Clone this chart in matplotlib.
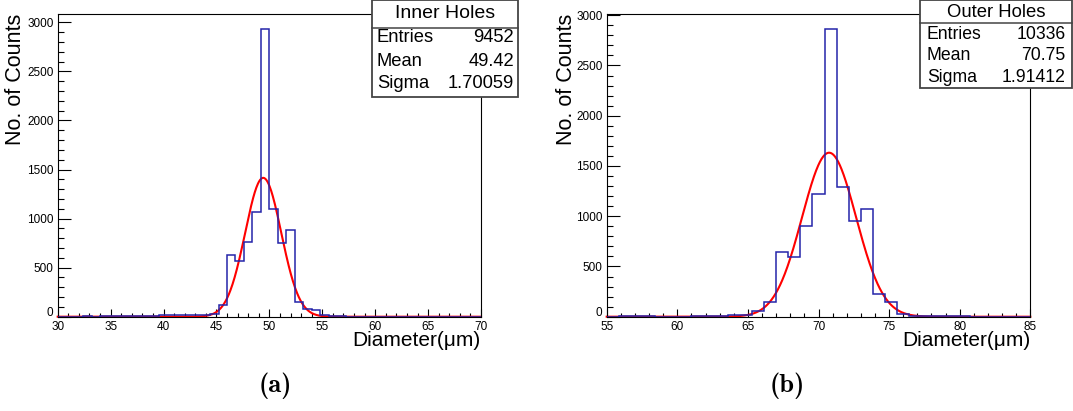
import os
import numpy as np
import matplotlib
matplotlib.use("Agg")
import matplotlib.pyplot as plt
from matplotlib.patches import Rectangle
from matplotlib.lines import Line2D
from matplotlib.ticker import MultipleLocator, FuncFormatter
from matplotlib.font_manager import FontProperties

plt.rcParams['font.family'] = ['Liberation Sans', 'DejaVu Sans']

# ---- data ----
inner_range = (30, 70)
inner_nbins = 50
inner_counts = [0, 2, 1, 3, 2, 3, 5, 6, 7, 8, 10, 12, 14, 16, 18, 20, 22, 20,
                30, 122, 626, 568, 765, 1068, 2935, 1095, 755, 884, 153, 82,
                68, 14, 12, 3, 2, 1, 1, 0, 0, 0, 0, 0, 0, 0, 0, 0, 0, 0, 0, 0]
inner_fit = (1415, 49.42, 1.70059)   # amplitude, mean, sigma
inner_stats = ["Inner Holes", "9452", "49.42", "1.70059"]

outer_range = (55, 85)
outer_nbins = 35
outer_counts = [0, 2, 4, 2, 1, 1, 1, 2, 3, 8, 12, 17, 53, 150, 646, 599, 902,
                1222, 2866, 1288, 952, 1072, 223, 146, 23, 10, 6, 4, 3, 2, 1,
                1, 0, 0, 0]
outer_fit = (1632, 70.75, 1.91412)
outer_stats = ["Outer Holes", "10336", "70.75", "1.91412"]

W, H = 1073, 411
fig = plt.figure(figsize=(W / 100, H / 100), dpi=100)

cmb = os.path.join(matplotlib.get_data_path(), 'fonts', 'ttf', 'cmb10.ttf')
if os.path.exists(cmb):
    capfont = FontProperties(fname=cmb, size=19)
else:
    capfont = FontProperties(family='DejaVu Serif', weight='bold', size=18)


def fx(px):
    return px / W


def fy(py):
    return 1 - py / H


def panel(left, right, top, bottom, xr, nbins, counts, fit, xmajor):
    ax = fig.add_axes([fx(left), fy(bottom), fx(right - left), (bottom - top) / H])
    edges = np.linspace(xr[0], xr[1], nbins + 1)
    ax.stairs(counts, edges, color='#2424aa', lw=1.1, zorder=3)
    amp, mu, sig = fit
    xx = np.linspace(xr[0], xr[1], 800)
    ax.plot(xx, amp * np.exp(-0.5 * ((xx - mu) / sig) ** 2), color='red',
            lw=1.5, zorder=2, clip_on=False)
    ax.set_xlim(*xr)
    ax.set_ylim(0, 1.05 * max(counts))
    ax.xaxis.set_major_locator(MultipleLocator(xmajor))
    ax.xaxis.set_minor_locator(MultipleLocator(1))
    ax.yaxis.set_major_locator(MultipleLocator(500))
    ax.yaxis.set_minor_locator(MultipleLocator(100))
    # the "0" is drawn separately, slightly lifted, like ROOT does
    ax.yaxis.set_major_formatter(FuncFormatter(lambda v, p: '' if v == 0 else '%g' % v))
    ax.annotate('0', xy=(0, 0), xycoords=('axes fraction', 'data'),
                xytext=(-3, 2.5), textcoords='offset points', ha='right',
                va='center', fontsize=8.5, annotation_clip=False)
    ax.tick_params(axis='both', which='both', direction='in', labelsize=8.5,
                   width=0.8, top=False, right=False)
    ax.tick_params(axis='x', which='major', length=5.8, pad=3)
    ax.tick_params(axis='x', which='minor', length=3)
    ax.tick_params(axis='y', which='major', length=9, pad=3)
    ax.tick_params(axis='y', which='minor', length=4.3)
    for s in ax.spines.values():
        s.set_linewidth(0.8)
        s.set_zorder(2.5)
    return ax


def statbox(x0, x1, y1, ysep, lines, title_size, row_size, lx, rx, ty, rows_y):
    fig.add_artist(Rectangle((fx(x0), fy(y1)), fx(x1 - x0), y1 / H,
                             transform=fig.transFigure, facecolor='white',
                             edgecolor='#444444', lw=1.3, zorder=10))
    fig.add_artist(Line2D([fx(x0), fx(x1)], [fy(ysep), fy(ysep)],
                          transform=fig.transFigure, color='#444444', lw=1.1,
                          zorder=11))
    fig.text(fx((x0 + x1) / 2), fy(ty), lines[0], ha='center', va='center',
             fontsize=title_size, zorder=12)
    names = ["Entries", "Mean", "Sigma"]
    for name, val, yy in zip(names, lines[1:], rows_y):
        fig.text(fx(lx), fy(yy), name, ha='left', va='center',
                 fontsize=row_size, zorder=12)
        fig.text(fx(rx), fy(yy), val, ha='right', va='center',
                 fontsize=row_size, zorder=12)


# panel (a)
axa = panel(57.7, 481, 14.3, 316.7, inner_range, inner_nbins, inner_counts,
            inner_fit, 5)
# panel (b)
axb = panel(606.7, 1030.3, 14.3, 316.7, outer_range, outer_nbins, outer_counts,
            outer_fit, 5)

for xl, xr_ in [(16, 481), (566, 1030.3)]:
    fig.text(fx(xl), fy(14), "No. of Counts", rotation=90, ha='center',
             va='top', fontsize=15.5)
    fig.text(fx(xr_), fy(331), "Diameter(\u03bcm)", ha='right', va='top',
             fontsize=15)

statbox(371.7, 518.3, 97.3, 27.7, inner_stats, 14, 13.2, 377, 514, 14,
        [38, 61, 84])
statbox(920, 1071.7, 88.3, 23.3, outer_stats, 13.3, 12.7, 927, 1065.7, 12.5,
        [34.5, 55.5, 77])

fig.text(fx(275), fy(386), '(a)', ha='center', va='center',
         fontproperties=capfont)
fig.text(fx(787), fy(386), '(b)', ha='center', va='center',
         fontproperties=capfont)

fig.savefig("out.png", dpi=100)
